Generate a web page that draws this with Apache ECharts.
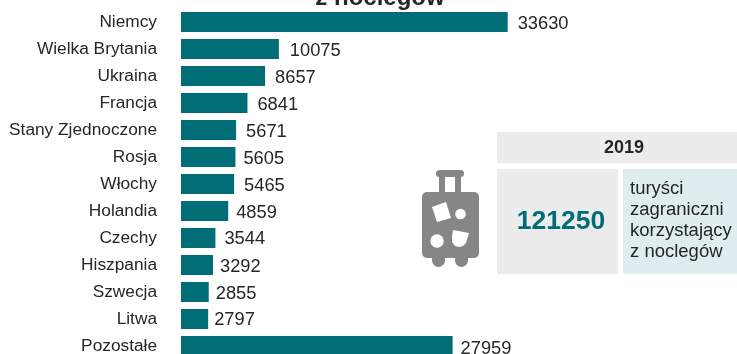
<!DOCTYPE html>
<html><head><meta charset="utf-8">
<style>html,body{margin:0;padding:0;background:#fff;overflow:hidden}#c{width:737px;height:354px}</style>
<script src="https://cdn.jsdelivr.net/npm/echarts@6/dist/echarts.min.js"></script></head>
<body><div id="c"></div>
<script>
const categories = ["Niemcy","Wielka Brytania","Ukraina","Francja","Stany Zjednoczone","Rosja","Włochy","Holandia","Czechy","Hiszpania","Szwecja","Litwa","Pozostałe"];
const values = [33630,10075,8657,6841,5671,5605,5465,4859,3544,3292,2855,2797,27959];
const titleText = "z noclegów";
const yearText = "2019";
const totalText = "121250";
const captionText = "turyści\nzagraniczni\nkorzystający\nz noclegów";
const FONT = '"Liberation Sans", Arial, sans-serif';
const TEAL = "#006d77", INK = "#262626", GREY = "#868686", PANEL = "#ececec", BLUE = "#dfecf0";
// the reference's value labels sit slightly unevenly beside their bars
const labelShift = [[1,2],[2,2],[1,2],[1,2],[1,2],[-1,2],[1,2],[-1,2],[0,1],[-2,2],[-2,2],[-3,1],[-1,3]];
const chart = echarts.init(document.getElementById("c"), null, {renderer:"canvas"});
const g = (type, shape, fill, extra) => Object.assign({type, shape, style:{fill}, silent:true}, extra||{});
chart.setOption({
  animation:false,
  backgroundColor:"#fff",
  grid:{left:181,top:8.5,width:408,height:351,containLabel:false,outerBoundsMode:"none"},
  xAxis:{type:"value",min:0,max:42000,show:false},
  yAxis:{type:"category",inverse:true,data:categories,
    axisLine:{show:false},axisTick:{show:false},
    axisLabel:{color:INK,fontFamily:FONT,fontSize:17.3,margin:24,align:"right"}},
  series:[{type:"bar",barWidth:20,itemStyle:{color:TEAL},
    data:values.map((v,i)=>({value:v,label:{offset:labelShift[i]}})),
    label:{show:true,position:"right",distance:9,color:INK,fontFamily:FONT,fontSize:18.3}}],
  graphic:[
    {type:"text",x:380,y:-14,style:{text:titleText,fill:INK,font:'bold 24px '+FONT,textAlign:"center",textVerticalAlign:"top"}},
    g("rect",{x:497,y:132,width:240,height:31},PANEL),
    g("rect",{x:497,y:169,width:121,height:105},PANEL),
    g("rect",{x:623,y:169,width:114,height:105},BLUE),
    {type:"text",x:624,y:148,style:{text:yearText,fill:INK,font:'bold 18px '+FONT,textAlign:"center",textVerticalAlign:"middle"}},
    {type:"text",x:561,y:222,style:{text:totalText,fill:TEAL,font:'bold 26.5px '+FONT,textAlign:"center",textVerticalAlign:"middle"}},
    {type:"text",x:630,y:178,style:{text:captionText,fill:INK,font:'18.5px '+FONT,lineHeight:21,textAlign:"left",textVerticalAlign:"top"}},
    // suitcase icon
    g("rect",{x:436,y:170,width:28,height:7,r:3.5},GREY),
    g("rect",{x:439,y:175,width:6,height:20},GREY),
    g("rect",{x:455,y:175,width:6,height:20},GREY),
    g("rect",{x:422,y:192,width:57,height:66,r:5},GREY),
    g("rect",{x:432,y:250,width:13,height:17,r:6.5},GREY),
    g("rect",{x:455,y:250,width:13,height:17,r:6.5},GREY),
    g("polygon",{points:[[432,207],[446,202],[451,218],[437,222]]},"#fff"),
    g("circle",{cx:460.5,cy:214,r:5.3},"#fff"),
    g("circle",{cx:437,cy:241,r:6.7},"#fff"),
    g("polygon",{points:[[453,230],[469,233],[466,243],[463,246],[459,247],[455,246],[452,242],[452,236]]},"#fff")
  ]
});
</script></body></html>
